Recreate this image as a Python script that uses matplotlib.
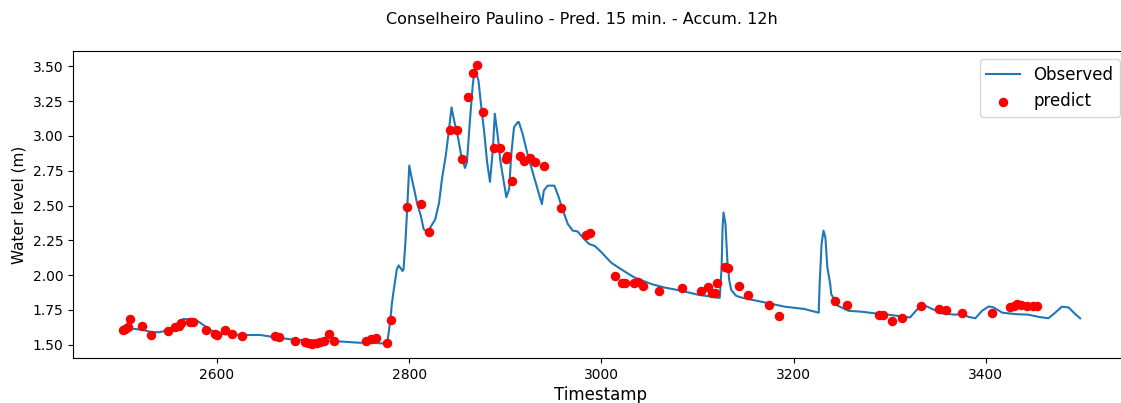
import matplotlib
matplotlib.use('Agg')
import matplotlib.pyplot as plt


# observed water level (timestamp, metres)
OBS_T = [2500, 2507, 2523, 2532, 2540, 2546, 2556, 2565, 2577, 2582, 2593, 2603,
         2627, 2645, 2662, 2680, 2714, 2746, 2765, 2777, 2780, 2782, 2784, 2787,
         2789, 2793, 2794, 2796, 2798, 2800, 2802, 2805, 2808, 2812, 2815, 2819,
         2824, 2827, 2831, 2834, 2838, 2841, 2844, 2847, 2851, 2854, 2858, 2860,
         2863, 2866, 2868, 2872, 2874, 2878, 2881, 2884, 2887, 2889, 2892, 2895,
         2899, 2901, 2904, 2906, 2909, 2913, 2914, 2918, 2923, 2928, 2934, 2938,
         2940, 2944, 2951, 2955, 2960, 2965, 2970, 2975, 2982, 2987, 2993, 3000,
         3010, 3020, 3034, 3043, 3052, 3065, 3083, 3100, 3123, 3125, 3126, 3127,
         3129, 3131, 3133, 3135, 3140, 3145, 3170, 3191, 3211, 3226, 3227, 3229,
         3231, 3233, 3235, 3238, 3239, 3243, 3246, 3257, 3271, 3285, 3298, 3316,
         3321, 3331, 3337, 3344, 3354, 3368, 3375, 3382, 3389, 3396, 3403, 3408,
         3417, 3431, 3444, 3455, 3465, 3472, 3479, 3486, 3493, 3498]
OBS_Y = [1.606, 1.62, 1.606, 1.59, 1.59, 1.60, 1.63, 1.685, 1.68, 1.66, 1.606, 1.577,
         1.57, 1.57, 1.552, 1.536, 1.53, 1.515, 1.512, 1.508, 1.66, 1.80, 1.90, 2.04,
         2.07, 2.03, 2.04, 2.235, 2.50, 2.787, 2.715, 2.62, 2.52, 2.427, 2.33, 2.31,
         2.367, 2.40, 2.52, 2.69, 2.86, 3.026, 3.205, 3.10, 2.98, 2.86, 2.77, 2.81,
         3.10, 3.36, 3.48, 3.40, 3.267, 3.026, 2.81, 2.67, 2.906, 3.16, 3.004, 2.81,
         2.643, 2.56, 2.62, 2.86, 3.063, 3.10, 3.10, 3.014, 2.87, 2.75, 2.607, 2.51,
         2.607, 2.643, 2.643, 2.57, 2.463, 2.367, 2.32, 2.314, 2.26, 2.224, 2.21, 2.164,
         2.09, 2.044, 1.984, 1.96, 1.936, 1.912, 1.888, 1.86, 1.836, 2.056, 2.343, 2.45,
         2.367, 2.10, 1.96, 1.893, 1.852, 1.84, 1.804, 1.773, 1.757, 1.73, 1.936, 2.224,
         2.32, 2.27, 2.056, 1.936, 1.864, 1.816, 1.78, 1.744, 1.737, 1.725, 1.716, 1.70,
         1.696, 1.773, 1.78, 1.757, 1.725, 1.716, 1.72, 1.70, 1.69, 1.744, 1.775, 1.768,
         1.73, 1.72, 1.716, 1.70, 1.69, 1.73, 1.773, 1.768, 1.72, 1.69]

# predicted values
PRED_T = [2502, 2504, 2507, 2509, 2522, 2531, 2549, 2556, 2560, 2563, 2572, 2575,
          2589, 2598, 2600, 2608, 2616, 2626, 2660, 2664, 2681, 2692, 2695, 2699,
          2704, 2707, 2711, 2717, 2722, 2755, 2760, 2765, 2777, 2781, 2798, 2812,
          2821, 2842, 2850, 2855, 2861, 2866, 2870, 2877, 2888, 2894, 2901, 2902,
          2907, 2915, 2919, 2926, 2931, 2940, 2958, 2984, 2988, 3014, 3021, 3024,
          3034, 3038, 3043, 3060, 3084, 3104, 3111, 3115, 3118, 3120, 3129, 3132,
          3143, 3152, 3174, 3185, 3243, 3255, 3289, 3293, 3302, 3313, 3332, 3351,
          3358, 3375, 3406, 3425, 3429, 3432, 3437, 3443, 3449, 3453]
PRED_Y = [1.606, 1.613, 1.63, 1.685, 1.632, 1.572, 1.596, 1.624, 1.637, 1.653, 1.665, 1.665,
          1.606, 1.577, 1.57, 1.606, 1.577, 1.56, 1.565, 1.558, 1.524, 1.522, 1.512, 1.505,
          1.512, 1.517, 1.53, 1.577, 1.524, 1.53, 1.54, 1.548, 1.51, 1.678, 2.49, 2.51,
          2.31, 3.04, 3.04, 2.835, 3.28, 3.45, 3.51, 3.17, 2.916, 2.916, 2.835, 2.858,
          2.677, 2.858, 2.82, 2.84, 2.81, 2.787, 2.48, 2.29, 2.30, 1.996, 1.943, 1.943,
          1.943, 1.948, 1.919, 1.888, 1.91, 1.886, 1.915, 1.869, 1.869, 1.943, 2.06, 2.05,
          1.92, 1.86, 1.785, 1.708, 1.816, 1.787, 1.716, 1.716, 1.668, 1.692, 1.778, 1.754,
          1.752, 1.73, 1.73, 1.768, 1.78, 1.792, 1.785, 1.78, 1.78, 1.78]

TITLE = 'Conselheiro Paulino - Pred. 15 min. - Accum. 12h'


def main():
    fig = plt.figure(figsize=(11.21, 4.03), dpi=100)
    ax = fig.add_axes([0.0651, 0.1117, 0.9412, 0.7617])

    ax.plot(OBS_T, OBS_Y, color='#1f77b4', linewidth=1.5, label='Observed')
    ax.scatter(PRED_T, PRED_Y, color='red', s=34, label='predict', zorder=3)

    ax.set_xticks([2600, 2800, 3000, 3200, 3400])
    ax.set_yticks([1.5, 1.75, 2.0, 2.25, 2.5, 2.75, 3.0, 3.25, 3.5])
    ax.tick_params(labelsize=10)
    ax.set_xlabel('Timestamp', fontsize=12, labelpad=3)
    ax.set_ylabel('Water level (m)', fontsize=11)
    ax.legend(loc='upper right', fontsize=12)

    fig.text(582 / 1121, 1 - 19 / 403, TITLE, ha='center', va='center', fontsize=11.5)

    fig.savefig('out.png', dpi=100)


if __name__ == '__main__':
    main()
